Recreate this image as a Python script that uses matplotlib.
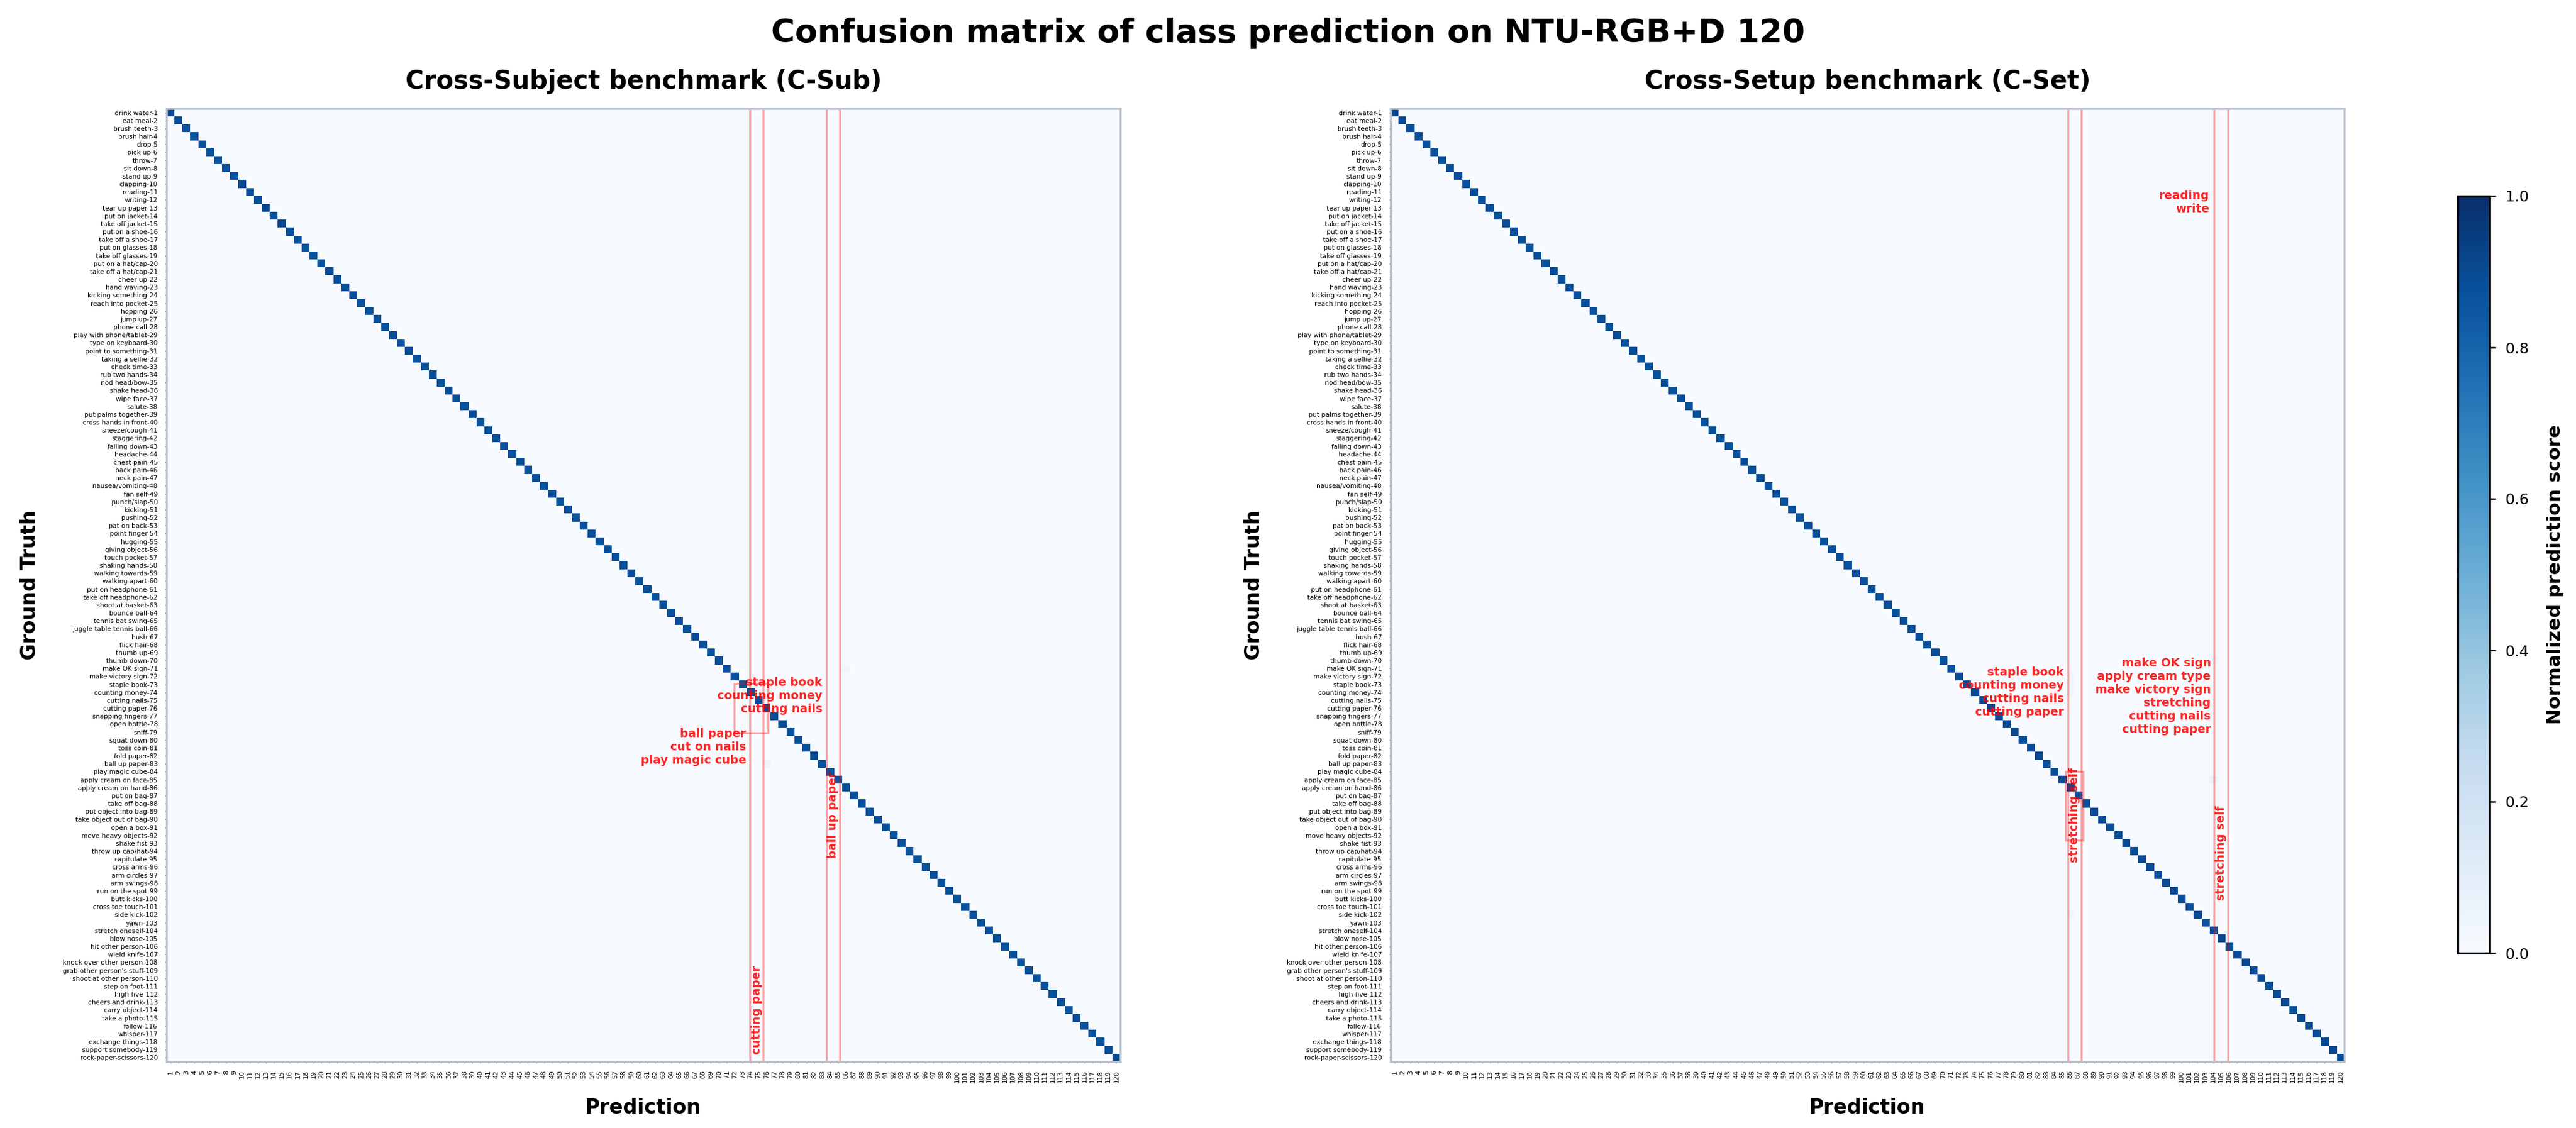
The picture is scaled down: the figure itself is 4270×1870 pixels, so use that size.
import numpy as np
import matplotlib
matplotlib.use("Agg")
import matplotlib.pyplot as plt
from matplotlib.patches import Rectangle

# NTU-RGB+D 120 action classes (as written on the y axis)
class_names = [
    'drink water', 'eat meal', 'brush teeth', 'brush hair', 'drop', 'pick up', 'throw',
    'sit down', 'stand up', 'clapping', 'reading', 'writing', 'tear up paper',
    'put on jacket', 'take off jacket', 'put on a shoe', 'take off a shoe',
    'put on glasses', 'take off glasses', 'put on a hat/cap', 'take off a hat/cap',
    'cheer up', 'hand waving', 'kicking something', 'reach into pocket', 'hopping',
    'jump up', 'phone call', 'play with phone/tablet', 'type on keyboard',
    'point to something', 'taking a selfie', 'check time', 'rub two hands',
    'nod head/bow', 'shake head', 'wipe face', 'salute', 'put palms together',
    'cross hands in front', 'sneeze/cough', 'staggering', 'falling down', 'headache',
    'chest pain', 'back pain', 'neck pain', 'nausea/vomiting', 'fan self', 'punch/slap',
    'kicking', 'pushing', 'pat on back', 'point finger', 'hugging', 'giving object',
    'touch pocket', 'shaking hands', 'walking towards', 'walking apart',
    'put on headphone', 'take off headphone', 'shoot at basket', 'bounce ball',
    'tennis bat swing', 'juggle table tennis ball', 'hush', 'flick hair', 'thumb up',
    'thumb down', 'make OK sign', 'make victory sign', 'staple book', 'counting money',
    'cutting nails', 'cutting paper', 'snapping fingers', 'open bottle', 'sniff',
    'squat down', 'toss coin', 'fold paper', 'ball up paper', 'play magic cube',
    'apply cream on face', 'apply cream on hand', 'put on bag', 'take off bag',
    'put object into bag', 'take object out of bag', 'open a box', 'move heavy objects',
    'shake fist', 'throw up cap/hat', 'capitulate', 'cross arms', 'arm circles',
    'arm swings', 'run on the spot', 'butt kicks', 'cross toe touch', 'side kick',
    'yawn', 'stretch oneself', 'blow nose', 'hit other person', 'wield knife',
    'knock over other person', "grab other person's stuff", 'shoot at other person',
    'step on foot', 'high-five', 'cheers and drink', 'carry object', 'take a photo',
    'follow', 'whisper', 'exchange things', 'support somebody', 'rock-paper-scissors',
]
n_cls = len(class_names)
y_labels = ['%s-%d' % (name, i + 1) for i, name in enumerate(class_names)]
x_labels = [str(i + 1) for i in range(n_cls)]

# diagonal (correct) scores
csub_diag = [
    0.90, 0.88, 0.86, 0.87, 0.88, 0.87, 0.86, 0.87, 0.87, 0.90,
    0.88, 0.87, 0.91, 0.87, 0.90, 0.88, 0.87, 0.86, 0.88, 0.87,
    0.89, 0.88, 0.87, 0.88, 0.86, 0.87, 0.88, 0.87, 0.88, 0.87,
    0.88, 0.87, 0.88, 0.88, 0.87, 0.89, 0.88, 0.87, 0.88, 0.87,
    0.88, 0.87, 0.88, 0.87, 0.88, 0.87, 0.88, 0.87, 0.88, 0.87,
    0.88, 0.87, 0.88, 0.87, 0.88, 0.87, 0.88, 0.87, 0.88, 0.87,
    0.88, 0.87, 0.88, 0.87, 0.88, 0.87, 0.89, 0.88, 0.87, 0.88,
    0.88, 0.87, 0.86, 0.87, 0.88, 0.90, 0.88, 0.89, 0.87, 0.88,
    0.88, 0.90, 0.86, 0.87, 0.85, 0.88, 0.87, 0.88, 0.87, 0.88,
    0.88, 0.87, 0.88, 0.87, 0.88, 0.87, 0.88, 0.87, 0.88, 0.87,
    0.88, 0.87, 0.88, 0.87, 0.88, 0.87, 0.88, 0.87, 0.88, 0.87,
    0.88, 0.87, 0.88, 0.87, 0.88, 0.87, 0.88, 0.87, 0.88, 0.90,
]
cset_diag = [
    0.90, 0.89, 0.88, 0.89, 0.88, 0.87, 0.88, 0.87, 0.88, 0.87,
    0.88, 0.87, 0.88, 0.87, 0.88, 0.87, 0.88, 0.87, 0.88, 0.87,
    0.88, 0.87, 0.88, 0.87, 0.88, 0.87, 0.88, 0.87, 0.88, 0.87,
    0.88, 0.87, 0.88, 0.87, 0.88, 0.87, 0.88, 0.87, 0.88, 0.87,
    0.88, 0.87, 0.88, 0.87, 0.88, 0.87, 0.88, 0.87, 0.88, 0.87,
    0.88, 0.87, 0.88, 0.87, 0.88, 0.87, 0.88, 0.87, 0.88, 0.87,
    0.88, 0.87, 0.88, 0.87, 0.88, 0.87, 0.88, 0.87, 0.88, 0.87,
    0.88, 0.89, 0.86, 0.90, 0.89, 0.90, 0.88, 0.89, 0.90, 0.88,
    0.89, 0.90, 0.88, 0.89, 0.88, 0.90, 0.89, 0.88, 0.89, 0.90,
    0.88, 0.89, 0.90, 0.88, 0.90, 0.89, 0.88, 0.89, 0.90, 0.88,
    0.89, 0.90, 0.86, 0.88, 0.90, 0.88, 0.89, 0.90, 0.88, 0.89,
    0.88, 0.89, 0.90, 0.88, 0.89, 0.90, 0.88, 0.89, 0.90, 0.89,
]
# faint off-diagonal confusions: (true row, predicted col, score)
csub_off = [(70, 85, 0.03), (75, 72, 0.03), (82, 75, 0.04)]
cset_off = [(69, 103, 0.03), (71, 85, 0.03), (72, 85, 0.03), (73, 85, 0.03),
            (84, 103, 0.04), (101, 85, 0.03)]


def build_matrix(diag, off):
    m = np.zeros((n_cls, n_cls))
    m[np.arange(n_cls), np.arange(n_cls)] = diag
    for r, c, v in off:
        m[r, c] = v
    return m


W, H, DPI = 4270, 1870, 300
fig = plt.figure(figsize=(W / DPI, H / DPI), dpi=DPI)
ax1 = fig.add_axes([276 / W, 1 - 1760 / H, 1581 / W, 1580 / H])
ax2 = fig.add_axes([2305 / W, 1 - 1760 / H, 1581 / W, 1580 / H])
cax = fig.add_axes([4074 / W, 1 - 1580 / H, 53 / W, 1255 / H])

red_kw = dict(color='red', alpha=0.85, fontsize=4.6, fontweight='bold')
box_kw = dict(fill=False, edgecolor='red', alpha=0.35, lw=0.8)

panels = [
    (ax1, build_matrix(csub_diag, csub_off), 'Cross-Subject benchmark (C-Sub)'),
    (ax2, build_matrix(cset_diag, cset_off), 'Cross-Setup benchmark (C-Set)'),
]
for ax, mat, title in panels:
    im = ax.imshow(mat, cmap='Blues', vmin=0, vmax=1, aspect='auto',
                   interpolation='nearest')
    ax.set_xticks(range(n_cls))
    ax.set_xticklabels(x_labels, rotation=90, fontsize=2.6)
    ax.set_yticks(range(n_cls))
    ax.set_yticklabels(y_labels, fontsize=2.6)
    ax.tick_params(length=0.5, width=0.3, pad=3)
    ax.set_xlabel('Prediction', fontsize=8, fontweight='bold', labelpad=6)
    ax.set_ylabel('Ground Truth', fontsize=8, fontweight='bold', labelpad=9)
    ax.set_title(title, fontsize=10, fontweight='bold', pad=8)
    for s in ax.spines.values():
        s.set_color('#b8c0cc')
        s.set_linewidth(0.8)

# C-Sub highlights
ax1.add_patch(Rectangle((72.9, -0.5), 1.7, 120, **box_kw))
ax1.add_patch(Rectangle((82.57, -0.5), 1.63, 120, **box_kw))
ax1.add_patch(Rectangle((70.9, 71.9), 4.3, 6.2, **box_kw))
ax1.text(82.0, 73.4, 'staple book\ncounting money\ncutting nails',
         ha='right', va='center', multialignment='right', **red_kw)
ax1.text(72.45, 79.9, 'ball paper\ncut on nails\nplay magic cube',
         ha='right', va='center', multialignment='right', **red_kw)
ax1.text(73.75, 118.6, 'cutting paper', rotation=90, ha='center', va='bottom', **red_kw)
ax1.text(83.35, 93.9, 'ball up paper', rotation=90, ha='center', va='bottom', **red_kw)

# C-Set highlights
ax2.add_patch(Rectangle((84.75, -0.5), 1.65, 120, **box_kw))
ax2.add_patch(Rectangle((103.14, -0.5), 1.72, 120, **box_kw))
ax2.add_patch(Rectangle((84.4, 83.0), 2.2, 8.6, **box_kw))
ax2.text(102.5, 11.3, 'reading\nwrite',
         ha='right', va='center', multialignment='right', **red_kw)
ax2.text(84.2, 73.0, 'staple book\ncounting money\ncutting nails\ncutting paper',
         ha='right', va='center', multialignment='right', **red_kw)
ax2.text(102.7, 73.5, 'make OK sign\napply cream type\nmake victory sign\n'
         'stretching\ncutting nails\ncutting paper',
         ha='right', va='center', multialignment='right', **red_kw)
ax2.text(85.55, 94.4, 'stretching self', rotation=90, ha='center', va='bottom', **red_kw)
ax2.text(103.95, 99.2, 'stretching self', rotation=90, ha='center', va='bottom', **red_kw)

cb = fig.colorbar(im, cax=cax)
cb.set_ticks([0.0, 0.2, 0.4, 0.6, 0.8, 1.0])
cb.ax.tick_params(labelsize=6, length=2.5, width=0.6)
cb.outline.set_linewidth(0.8)
cb.set_label('Normalized prediction score', fontsize=7.5, fontweight='bold', labelpad=7)

fig.suptitle('Confusion matrix of class prediction on NTU-RGB+D 120',
             fontsize=13, fontweight='bold', y=1 - 55 / H, va='center')

fig.savefig('out.png', dpi=DPI)
